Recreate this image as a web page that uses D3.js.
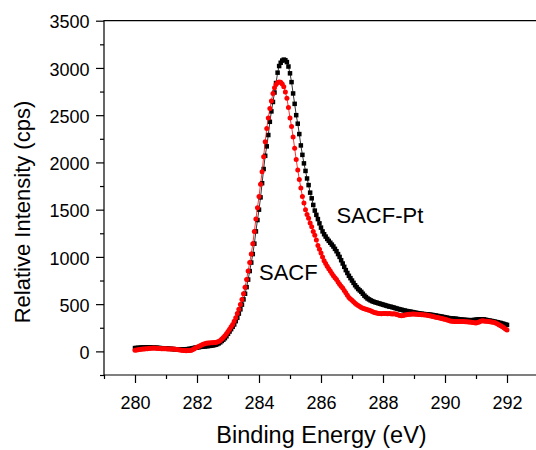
<!DOCTYPE html>
<html>
<head>
<meta charset="utf-8">
<script src="https://cdn.jsdelivr.net/npm/d3@7"></script>
<style>
  html, body { margin: 0; padding: 0; background: #fff; }
  svg { display: block; }
</style>
</head>
<body>
<svg id="chart" width="536" height="450"></svg>
<script>
// C 1s spectra, sampled every 0.05 eV from 280.00 to 292.00 eV
const energyStart = 280;
const energyStep = 0.05;

// SACF-Pt (black squares), one row per eV
const sacfPt = [
  35,36,37,38,40,41,41,42,42,42,41,41,40,39,38,37,35,34,33,32,
  30,29,28,27,25,24,23,22,20,20,20,20,20,22,24,26,28,32,36,40,
  40,44,47,50,50,53,55,56,58,61,63,66,70,76,85,96,110,124,140,160,
  186,210,235,260,285,320,355,400,445,495,550,610,680,760,850,940,1030,1140,1270,1390,
  1500,1630,1780,1930,2070,2170,2290,2430,2540,2640,2740,2840,2950,3020,3055,3078,3088,3082,3062,3015,
  2943,2850,2730,2620,2500,2410,2300,2180,2080,1990,1910,1830,1760,1680,1620,1550,1490,1445,1400,1355,
  1310,1270,1240,1215,1190,1170,1150,1130,1110,1085,1060,1030,1000,965,930,895,860,830,800,775,
  750,725,700,680,660,645,630,610,590,575,560,550,540,532,525,520,515,510,505,500,
  495,490,485,480,475,472,468,463,458,453,448,444,440,436,432,428,425,422,419,416,
  412,409,406,403,400,398,396,394,393,391,389,387,385,382,379,376,373,370,367,364,
  360,357,354,351,350,348,346,345,343,340,338,336,335,333,332,331,330,330,331,333,
  335,337,339,340,340,338,335,331,327,325,322,318,315,311,307,303,300,295,290,285,
  280
];

// SACF (red circles), one row per eV
const sacf = [
  12,15,18,20,22,24,25,27,28,30,32,34,35,34,33,31,30,29,28,27,
  27,26,26,25,25,24,23,20,18,15,12,10,8,7,8,9,10,16,25,35,
  45,52,60,68,75,80,85,88,90,91,92,93,95,99,105,116,130,146,165,186,
  210,235,260,285,320,355,400,445,495,550,610,680,760,850,940,1030,1140,1270,1400,1520,
  1640,1770,1900,2060,2220,2360,2470,2570,2650,2730,2790,2825,2845,2852,2848,2830,2800,2745,2680,2580,
  2470,2380,2270,2150,2030,1920,1820,1730,1640,1570,1500,1450,1410,1360,1320,1270,1230,1180,1120,1080,
  1040,1000,960,930,900,875,850,825,800,780,760,735,710,690,670,645,620,595,570,555,
  540,525,510,497,485,475,465,457,450,445,440,435,430,422,415,410,405,402,400,398,
  400,402,401,399,400,398,396,397,395,390,385,380,378,380,385,388,390,392,394,395,
  395,393,392,391,390,388,387,386,385,381,377,374,370,366,362,358,355,351,347,344,
  340,335,330,325,320,318,316,315,315,316,317,316,315,314,313,312,312,309,306,303,
  300,305,312,320,325,322,320,318,316,314,312,309,305,298,290,280,270,260,250,238,
  225
];

const xTicks = [280, 282, 284, 286, 288, 290, 292];
const xMinorTicks = [279, 281, 283, 285, 287, 289, 291, 293];
const yTicks = [0, 500, 1000, 1500, 2000, 2500, 3000, 3500];
const yMinorTicks = [-250, 250, 750, 1250, 1750, 2250, 2750, 3250];
const seriesNames = ["SACF-Pt", "SACF"];
const xTitle = "Binding Energy (eV)";
const yTitle = "Relative Intensity (cps)";

const FONT = "'Liberation Sans', Arial, Helvetica, sans-serif";

const energy = sacf.map((_, i) => +(energyStart + i * energyStep).toFixed(2));
const ptPoints = energy.map((e, i) => ({ e, v: sacfPt[i] }));
const bareP = energy.map((e, i) => ({ e, v: sacf[i] }));

const x = d3.scaleLinear().domain([279, 293]).range([104, 538]);
const y = d3.scaleLinear().domain([-250, 3500]).range([375, 20.7]);

const svg = d3.select("#chart");
svg.append("rect").attr("width", 536).attr("height", 450).attr("fill", "#fff");

// plot frame
svg.append("path")
  .attr("d", `M${x(279)},${y(-250)}V${y(3500)}H${x(293)}V${y(-250)}Z`)
  .attr("fill", "none").attr("stroke", "#000").attr("stroke-width", 1.2);

// x axis
const gx = svg.append("g").attr("transform", `translate(0,${y(-250)})`)
  .call(d3.axisBottom(x).tickValues(xTicks).tickSize(8).tickSizeOuter(0).tickFormat(d3.format("d")));
const gxm = svg.append("g").attr("transform", `translate(0,${y(-250)})`)
  .call(d3.axisBottom(x).tickValues(xMinorTicks).tickSize(4).tickSizeOuter(0).tickFormat(""));
gx.selectAll("text").attr("y", 34.3).attr("dy", null);

// y axis
const gy = svg.append("g").attr("transform", `translate(${x(279)},0)`)
  .call(d3.axisLeft(y).tickValues(yTicks).tickSize(8).tickSizeOuter(0).tickFormat(d3.format("d")));
const gym = svg.append("g").attr("transform", `translate(${x(279)},0)`)
  .call(d3.axisLeft(y).tickValues(yMinorTicks).tickSize(4).tickSizeOuter(0).tickFormat(""));
gy.selectAll("text").attr("x", -14.5).attr("dy", "0.4em");

[gx, gxm, gy, gym].forEach(g => {
  g.select(".domain").remove();
  g.selectAll("line").attr("stroke", "#000").attr("stroke-width", 1.2);
  g.selectAll("text").attr("font-size", 18).attr("font-family", FONT).attr("fill", "#000");
});

// axis titles
svg.append("text")
  .attr("x", 321.5).attr("y", 443)
  .attr("text-anchor", "middle")
  .attr("font-family", FONT).attr("font-size", 23.5).attr("fill", "#000")
  .text(xTitle);
svg.append("text")
  .attr("transform", "translate(30,212) rotate(-90)")
  .attr("text-anchor", "middle")
  .attr("font-family", FONT).attr("font-size", 22).attr("fill", "#000")
  .text(yTitle);

// series
const line = d3.line().x(d => x(d.e)).y(d => y(d.v));

svg.append("path").datum(ptPoints)
  .attr("d", line).attr("fill", "none").attr("stroke", "#000").attr("stroke-width", 0.8);
svg.append("g").selectAll("rect").data(ptPoints).join("rect")
  .attr("x", d => x(d.e) - 2.25).attr("y", d => y(d.v) - 2.25)
  .attr("width", 4.5).attr("height", 4.5).attr("fill", "#000");

svg.append("path").datum(bareP)
  .attr("d", line).attr("fill", "none").attr("stroke", "#ff0000").attr("stroke-width", 0.8);
svg.append("g").selectAll("circle").data(bareP).join("circle")
  .attr("cx", d => x(d.e)).attr("cy", d => y(d.v))
  .attr("r", 2.5).attr("fill", "#ff0000");

// curve labels
const labelAt = [
  { name: seriesNames[0], e: 286.5, v: 1360 },
  { name: seriesNames[1], e: 284.0, v: 760 }
];
svg.append("g").selectAll("text").data(labelAt).join("text")
  .attr("x", d => x(d.e)).attr("y", d => y(d.v))
  .attr("font-family", FONT).attr("font-size", 22).attr("fill", "#000")
  .text(d => d.name);
</script>
</body>
</html>
